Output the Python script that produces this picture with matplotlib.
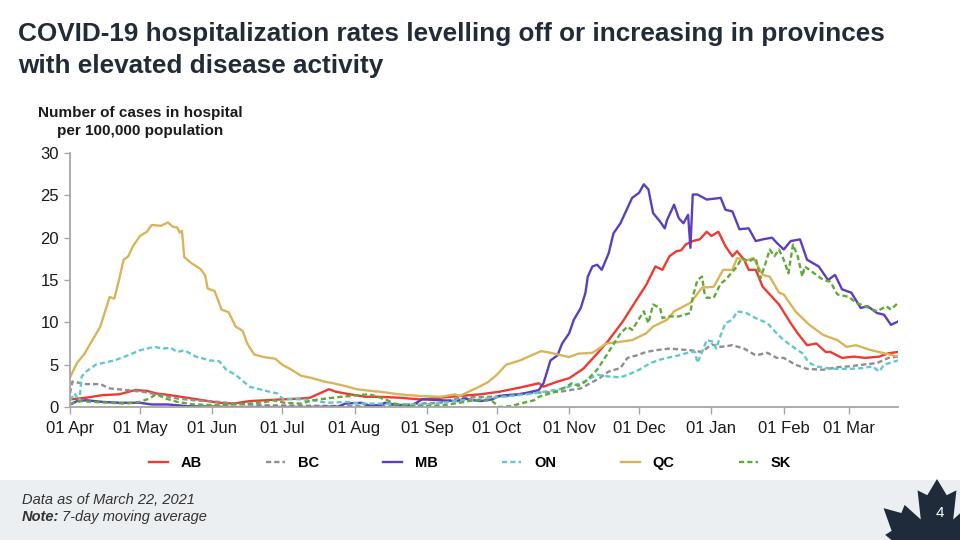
import numpy as np
import pandas as pd
import matplotlib
matplotlib.use("Agg")
import matplotlib.pyplot as plt
import matplotlib.dates as mdates
from matplotlib.patches import Rectangle, Polygon

plt.rcParams['font.family'] = ['Liberation Sans', 'DejaVu Sans']

# days since 01 Apr 2020, values = cases in hospital per 100,000 (7-day avg)
ab_days = [0, 7, 14, 21, 28, 33, 37, 43, 50, 57, 64, 70, 77, 84, 91, 99, 103, 107, 111, 114,
           120, 127, 133, 141, 150, 159, 167, 176, 184, 193, 201, 203, 209, 214, 220, 226, 231,
           237, 243, 247, 251, 254, 257, 260, 262, 264, 267, 270, 273, 275, 278, 281, 284, 286,
           289, 291, 294, 297, 301, 304, 309, 312, 316, 320, 324, 326, 331, 336, 341, 347, 351, 355]
ab_vals = [0.9, 1.1, 1.4, 1.5, 2.0, 1.9, 1.6, 1.4, 1.1, 0.8, 0.5, 0.4, 0.7, 0.8, 0.9, 1.0, 1.1, 1.6, 2.1, 1.8,
           1.5, 1.2, 1.2, 1.1, 0.9, 1.1, 1.3, 1.5, 1.8, 2.3, 2.8, 2.4, 3.0, 3.4, 4.5, 6.3, 7.9,
           10.1, 12.7, 14.4, 16.6, 16.2, 17.8, 18.4, 18.5, 19.2, 19.6, 19.8, 20.7, 20.2, 20.7, 19.0, 17.8, 18.4,
           17.4, 16.2, 16.2, 14.2, 13.0, 12.1, 9.9, 8.7, 7.3, 7.5, 6.5, 6.5, 5.8, 5.95, 5.8, 5.95, 6.35, 6.5]

bc_days = [0, 1, 7, 13, 17, 24, 31, 39, 46, 53, 64, 70, 84, 100, 120, 140, 150, 159, 167, 179,
           188, 194, 201, 210, 219, 227, 231, 236, 239, 243, 247, 251, 257, 266, 271, 275, 279,
           284, 289, 294, 299, 303, 306, 311, 316, 323, 329, 334, 340, 346, 351, 355]
bc_vals = [1.6, 3.0, 2.7, 2.7, 2.2, 2.0, 1.8, 1.4, 1.0, 0.8, 0.6, 0.4, 0.2, 0.15, 0.1, 0.2, 0.4, 0.5, 1.1, 1.2,
           1.3, 1.6, 1.7, 1.8, 2.2, 3.4, 4.2, 4.6, 5.8, 6.1, 6.5, 6.7, 6.9, 6.7, 6.5, 7.4, 7.1,
           7.3, 6.9, 6.1, 6.4, 5.8, 5.8, 5.0, 4.5, 4.4, 4.7, 4.8, 5.0, 5.2, 5.8, 5.95]

mb_days = [0, 3, 7, 14, 21, 30, 35, 42, 50, 60, 70, 100, 115, 118, 125, 128, 133, 135, 139, 146,
           151, 159, 166, 169, 173, 176, 181, 184, 187, 193, 201, 203, 206, 209, 211, 214, 216,
           219, 221, 222, 224, 226, 228, 231, 233, 236, 239, 241, 244, 246, 248, 250, 253, 255,
           256, 259, 261, 263, 265, 266, 267, 269, 273, 279, 281, 284, 287, 291, 294, 297, 301,
           303, 306, 309, 313, 316, 321, 325, 328, 331, 335, 339, 342, 346, 349, 352, 355]
mb_vals = [0.3, 0.7, 0.8, 0.6, 0.5, 0.5, 0.3, 0.3, 0.1, 0.05, 0.0, 0.0, 0.05, 0.4, 0.5, 0.2, 0.2, 0.5, 0.3, 0.1,
           0.9, 0.8, 0.7, 1.0, 0.8, 0.7, 0.9, 1.3, 1.4, 1.5, 2.0, 2.8, 5.5, 6.1, 7.5, 8.7, 10.3,
           11.7, 13.5, 15.4, 16.6, 16.8, 16.2, 18.2, 20.5, 21.7, 23.5, 24.7, 25.3, 26.3, 25.7, 22.9, 21.9, 21.1,
           22.1, 23.9, 22.3, 21.7, 22.7, 18.8, 25.1, 25.1, 24.5, 24.7, 23.3, 23.1, 21.0, 21.1, 19.6, 19.8, 20.0,
           19.4, 18.6, 19.6, 19.8, 17.4, 16.6, 15.0, 15.6, 13.9, 13.5, 11.7, 11.9, 11.1, 10.9, 9.7, 10.1]

on_days = [0, 2, 4, 5, 7, 11, 19, 24, 30, 36, 40, 43, 46, 49, 54, 60, 64, 67, 71, 77, 84, 89, 91,
           99, 104, 110, 119, 124, 133, 146, 153, 160, 167, 173, 181, 189, 196, 201, 210, 219, 226,
           231, 236, 240, 244, 249, 253, 256, 261, 266, 268, 269, 271, 273, 276, 277, 279, 281, 284,
           286, 290, 294, 299, 303, 306, 310, 314, 317, 320, 324, 329, 334, 340, 344, 347, 349, 355]
on_vals = [0.8, 1.6, 0.6, 3.6, 4.2, 5.0, 5.5, 6.0, 6.7, 7.1, 6.9, 7.0, 6.5, 6.7, 5.95, 5.5, 5.4, 4.4, 3.8, 2.4, 1.9, 1.6, 1.0,
           0.9, 0.8, 0.5, 0.6, 0.4, 0.4, 0.3, 0.3, 0.5, 0.8, 0.8, 1.1, 1.3, 1.5, 1.7, 2.1, 2.8, 3.8,
           3.6, 3.5, 3.9, 4.4, 5.2, 5.6, 5.8, 6.1, 6.5, 6.5, 5.2, 6.5, 7.9, 7.7, 6.9, 8.5, 9.9, 10.3,
           11.3, 11.1, 10.5, 9.9, 8.7, 7.9, 7.1, 6.35, 5.2, 4.8, 4.6, 4.5, 4.5, 4.6, 4.8, 4.2, 5.0, 5.5]

qc_days = [0, 3, 6, 13, 17, 19, 21, 23, 25, 27, 30, 33, 35, 39, 42, 44, 46, 47, 48, 49, 52, 56,
           58, 59, 62, 65, 68, 71, 74, 76, 79, 83, 88, 91, 95, 99, 104, 109, 113, 119, 123, 129,
           133, 141, 150, 159, 165, 167, 174, 179, 183, 187, 193, 197, 202, 206, 214, 218, 224,
           230, 236, 241, 247, 250, 256, 259, 266, 271, 276, 280, 284, 286, 290, 293, 297, 300,
           304, 306, 311, 317, 323, 329, 333, 337, 343, 349, 355]
qc_vals = [3.5, 5.2, 6.2, 9.5, 13.0, 12.8, 15.0, 17.4, 17.8, 19.0, 20.2, 20.7, 21.5, 21.4, 21.8, 21.3, 21.2, 20.6, 20.8, 17.7, 17.0, 16.3,
           15.5, 14.0, 13.7, 11.5, 11.2, 9.5, 9.0, 7.5, 6.2, 5.9, 5.7, 5.0, 4.4, 3.7, 3.4, 3.0, 2.8, 2.4, 2.1, 1.9,
           1.8, 1.5, 1.3, 1.2, 1.5, 1.3, 2.2, 2.9, 3.8, 5.0, 5.5, 6.0, 6.6, 6.4, 5.9, 6.3, 6.4,
           7.5, 7.7, 7.9, 8.7, 9.5, 10.3, 11.3, 12.3, 14.1, 14.2, 16.2, 16.2, 17.6, 17.3, 17.6, 15.6, 15.4,
           13.5, 13.3, 11.3, 9.7, 8.5, 7.9, 7.1, 7.3, 6.75, 6.35, 5.95]

sk_days = [0, 4, 10, 17, 24, 30, 34, 37, 41, 46, 53, 64, 77, 84, 87, 92, 99, 104, 110, 116, 124,
           128, 131, 136, 139, 146, 153, 160, 167, 173, 179, 181, 184, 189, 193, 199, 201, 207,
           213, 215, 218, 221, 226, 230, 236, 239, 241, 246, 248, 250, 253, 254, 257, 261, 266,
           267, 269, 271, 272, 273, 276, 279, 281, 286, 288, 291, 294, 296, 298, 300, 302, 304,
           306, 308, 310, 312, 314, 315, 319, 323, 326, 329, 334, 337, 341, 346, 350, 352, 355]
sk_vals = [0.3, 0.7, 0.6, 0.5, 0.4, 0.6, 1.0, 1.5, 1.0, 0.6, 0.3, 0.2, 0.4, 0.6, 0.8, 0.5, 0.4, 0.8, 1.0, 1.2, 1.4,
           1.5, 1.3, 0.8, 0.4, 0.1, 0.1, 0.2, 0.5, 0.8, 0.8, 0.7, 0.0, 0.1, 0.4, 0.8, 1.2, 1.7,
           2.4, 2.8, 2.5, 3.0, 4.4, 6.1, 8.7, 9.5, 9.1, 11.3, 9.9, 12.1, 11.7, 10.5, 10.7, 10.7, 11.1,
           13.0, 15.0, 15.4, 13.5, 12.9, 12.9, 14.6, 15.0, 16.6, 17.6, 17.2, 17.6, 15.2, 16.8, 18.6, 17.8, 18.6,
           17.4, 15.8, 19.2, 17.8, 15.4, 16.6, 15.8, 15.0, 14.8, 13.3, 13.0, 12.3, 11.9, 11.3, 11.9, 11.5, 12.3]

provinces = ['AB', 'BC', 'MB', 'ON', 'QC', 'SK']
colors = ['#ee3b30', '#8e8e8e', '#5b3fbe', '#62c8cc', '#d8b55a', '#5faa3a']
dashed = [False, True, False, True, False, True]
series = [(ab_days, ab_vals), (bc_days, bc_vals), (mb_days, mb_vals),
          (on_days, on_vals), (qc_days, qc_vals), (sk_days, sk_vals)]

start = pd.Timestamp('2020-04-01')
end = pd.Timestamp('2021-03-22')

fig = plt.figure(figsize=(9.6, 5.4), dpi=100)
fig.patch.set_facecolor('white')

# footer band
fig.add_artist(Rectangle((0, 0), 1, 60 / 540, transform=fig.transFigure,
                         facecolor='#eceff1', edgecolor='none', zorder=0))

ax = fig.add_axes([70 / 960, 1 - 407 / 540, 828 / 960, 254 / 540])

for name, col, dsh, (d, v) in zip(provinces, colors, dashed, series):
    dates = start + pd.to_timedelta(d, unit='D')
    ls = (0, (2.2, 1.3)) if dsh else '-'
    ax.plot(dates, v, color=col, lw=1.7, ls=ls, label=name)

ax.set_xlim(start, end)
ax.set_ylim(0, 30)
ax.set_yticks(range(0, 31, 5))
ax.xaxis.set_major_locator(mdates.MonthLocator())
ax.xaxis.set_major_formatter(mdates.DateFormatter('%d %b'))
for s in ['top', 'right']:
    ax.spines[s].set_visible(False)
for s in ['left', 'bottom']:
    ax.spines[s].set_color('#a6a6a6')
    ax.spines[s].set_linewidth(1.3)
ax.tick_params(axis='both', colors='#a6a6a6', labelcolor='#1a1a1a', labelsize=12)
ax.tick_params(axis='x', length=5, width=1, pad=5)
ax.tick_params(axis='y', length=4, width=1, pad=4)

fig.text(140 / 960, 1 - 122 / 540, 'Number of cases in hospital\nper 100,000 population',
         ha='center', va='center', fontsize=11, fontweight='bold', color='#1a1a1a',
         linespacing=1.45)

fig.text(18 / 960, 1 - 41 / 540,
         'COVID-19 hospitalization rates levelling off or increasing in provinces',
         ha='left', va='baseline', fontsize=18.8, fontweight='bold', color='#232b38')
fig.text(18 / 960, 1 - 73 / 540, 'with elevated disease activity',
         ha='left', va='baseline', fontsize=18.8, fontweight='bold', color='#232b38')

leg = fig.legend(loc='center', bbox_to_anchor=(470 / 960, 1 - 463 / 540), ncol=6, frameon=False,
                 handlelength=1.3, handletextpad=0.9, columnspacing=4.4,
                 prop={'weight': 'bold', 'size': 10.5})

# footer notes
fig.text(22 / 960, 1 - 500 / 540, 'Data as of March 22, 2021', ha='left', va='center',
         fontsize=10.5, style='italic', color='#333333')
t_note = fig.text(22 / 960, 1 - 517 / 540, 'Note:', ha='left', va='center',
                  fontsize=10.5, style='italic', fontweight='bold', color='#333333')
r = fig.canvas.get_renderer()
bb = t_note.get_window_extent(renderer=r)
fig.text((bb.x1 + 3) / 960, 1 - 517 / 540, '7-day moving average', ha='left', va='center',
         fontsize=10.5, style='italic', color='#333333')

# maple leaf page badge
leaf = np.array([(0, 1.0), (0.12, 0.80), (0.24, 0.86), (0.20, 0.50), (0.40, 0.68), (0.44, 0.58),
                 (0.66, 0.64), (0.56, 0.36), (0.64, 0.31), (0.38, 0.10), (0.42, 0.0), (0.04, 0.03),
                 (0.05, -0.3), (-0.05, -0.3), (-0.04, 0.03), (-0.42, 0.0), (-0.38, 0.10),
                 (-0.64, 0.31), (-0.56, 0.36), (-0.66, 0.64), (-0.44, 0.58), (-0.40, 0.68),
                 (-0.20, 0.50), (-0.24, 0.86), (-0.12, 0.80)])
cx, cy, sc = 937, 560, 81
pts = np.column_stack([(cx + leaf[:, 0] * sc) / 960, 1 - (cy - leaf[:, 1] * sc) / 540])
fig.add_artist(Polygon(pts, closed=True, transform=fig.transFigure,
                       facecolor='#1f2a3a', edgecolor='none', zorder=1))
fig.text(940 / 960, 1 - 513 / 540, '4', ha='center', va='center', fontsize=11, color='white')

fig.savefig('out.png', dpi=100)
